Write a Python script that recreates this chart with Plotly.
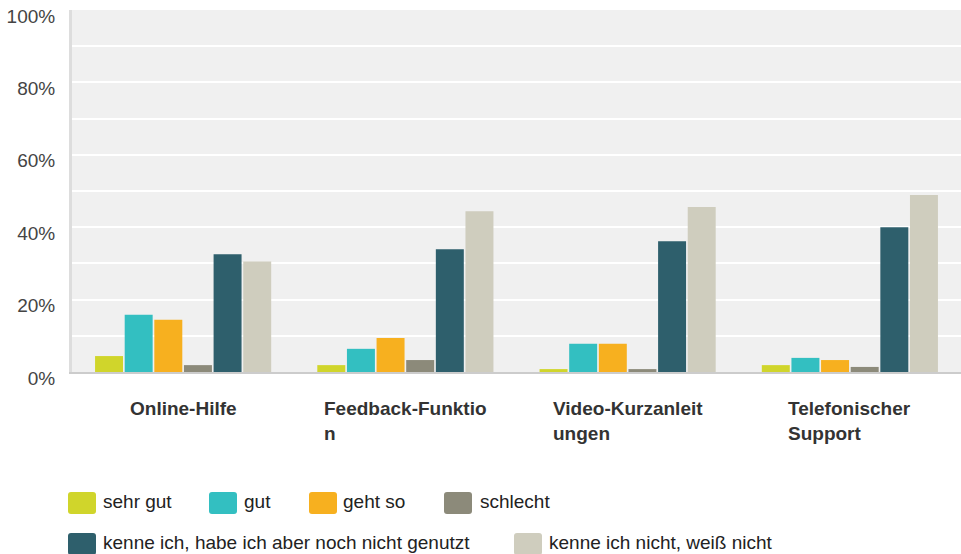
import plotly.graph_objects as go

# categories on the x axis
tools = ["Online-Hilfe", "Feedback-Funktion", "Video-Kurzanleitungen", "Telefonischer Support"]
tool_labels = ["Online-Hilfe", "Feedback-Funktio<br>n", "Video-Kurzanleit<br>ungen", "Telefonischer<br>Support"]

# answer shares in percent
sehr_gut = [4.4, 1.9, 0.8, 1.9]
gut = [15.8, 6.4, 7.8, 3.9]
geht_so = [14.4, 9.4, 7.8, 3.3]
schlecht = [1.9, 3.3, 0.8, 1.4]
kenne_nicht_genutzt = [32.5, 33.9, 36.1, 40.0]
kenne_nicht = [30.5, 44.4, 45.6, 48.9]

answers = ["sehr gut", "gut", "geht so", "schlecht",
           "kenne ich, habe ich aber noch nicht genutzt", "kenne ich nicht, weiß nicht"]
values = [sehr_gut, gut, geht_so, schlecht, kenne_nicht_genutzt, kenne_nicht]
colors = ["#d0d52b", "#33bfc1", "#f7b01f", "#8c8a7a", "#2e5f6c", "#cfcdbe"]

y_ticks = [0, 10, 20, 30, 40, 50, 60, 70, 80, 90, 100]
y_ticktext = ["0%", "", "20%", "", "40%", "", "60%", "", "80%", "", "100%"]

W, H = 961, 554
L, R, T, B = 72, 0, 10, 182
pw = W - L - R
ph = H - T - B
FONT = "Liberation Sans, Arial"


def px_x(x):
    return (x - L) / pw


def px_y(y):
    return (H - B - y) / ph


fig = go.Figure()
for name, vals, col in zip(answers, values, colors):
    fig.add_trace(go.Bar(x=tools, y=vals, name=name, marker_color=col,
                         marker_line_width=0, showlegend=False))

# category labels below the axis, lines left aligned
for t, lab in zip(tools, tool_labels):
    fig.add_annotation(x=t, xref="x", y=px_y(396), yref="paper", text="<b>" + lab + "</b>",
                       showarrow=False, xanchor="center", yanchor="top", align="left",
                       font=dict(family=FONT, size=19, color="#333333"))

# hand made legend (swatch left edge, row top, text left edge)
legend_pos = [(68, 492, 101), (209, 492, 242), (309, 492, 341), (444, 492, 478),
              (68, 533, 101), (514, 533, 547)]


def rounded(x0, y0, x1, y1, r=3):
    a, b, c, d = px_x(x0), px_y(y0), px_x(x1), px_y(y1)
    rx, ry = r / pw, r / ph
    return (f"M{a+rx},{b} L{c-rx},{b} Q{c},{b} {c},{b-ry} L{c},{d+ry} Q{c},{d} {c-rx},{d} "
            f"L{a+rx},{d} Q{a},{d} {a},{d+ry} L{a},{b-ry} Q{a},{b} {a+rx},{b} Z")


for name, col, (sx, sy, tx) in zip(answers, colors, legend_pos):
    fig.add_shape(type="path", path=rounded(sx, sy, sx + 28, sy + 22),
                  xref="paper", yref="paper", fillcolor=col, line_width=0)
    fig.add_annotation(x=px_x(tx), y=px_y(sy + 9), xref="paper", yref="paper",
                       text=name, showarrow=False, xanchor="left", yanchor="middle",
                       font=dict(family=FONT, size=19, color="#222222"))

fig.update_layout(
    width=W, height=H,
    margin=dict(l=L, r=R, t=T, b=B, autoexpand=False),
    paper_bgcolor="white",
    plot_bgcolor="#f0f0f0",
    barmode="group",
    bargap=0.2,
    bargroupgap=0.056,
    font=dict(family=FONT, size=19, color="#444444"),
)
fig.update_xaxes(showticklabels=False, showgrid=False, showline=True,
                 linecolor="#cccccc", linewidth=2, ticks="", automargin=False)
# the original labels sit a little below their gridlines
fig.update_yaxes(range=[0, 100], tickvals=y_ticks, ticktext=y_ticktext,
                 showgrid=True, gridcolor="white", gridwidth=2,
                 zeroline=False, showline=True, linecolor="#dddddd", linewidth=3,
                 ticks="", ticklabelstandoff=10, ticklabelshift=6, automargin=False,
                 tickfont=dict(family=FONT, size=19, color="#444444"))

# no default page margin around the figure
fig.write_html("out.html", config={"displayModeBar": False},
               post_script="document.body.style.margin='0';")
